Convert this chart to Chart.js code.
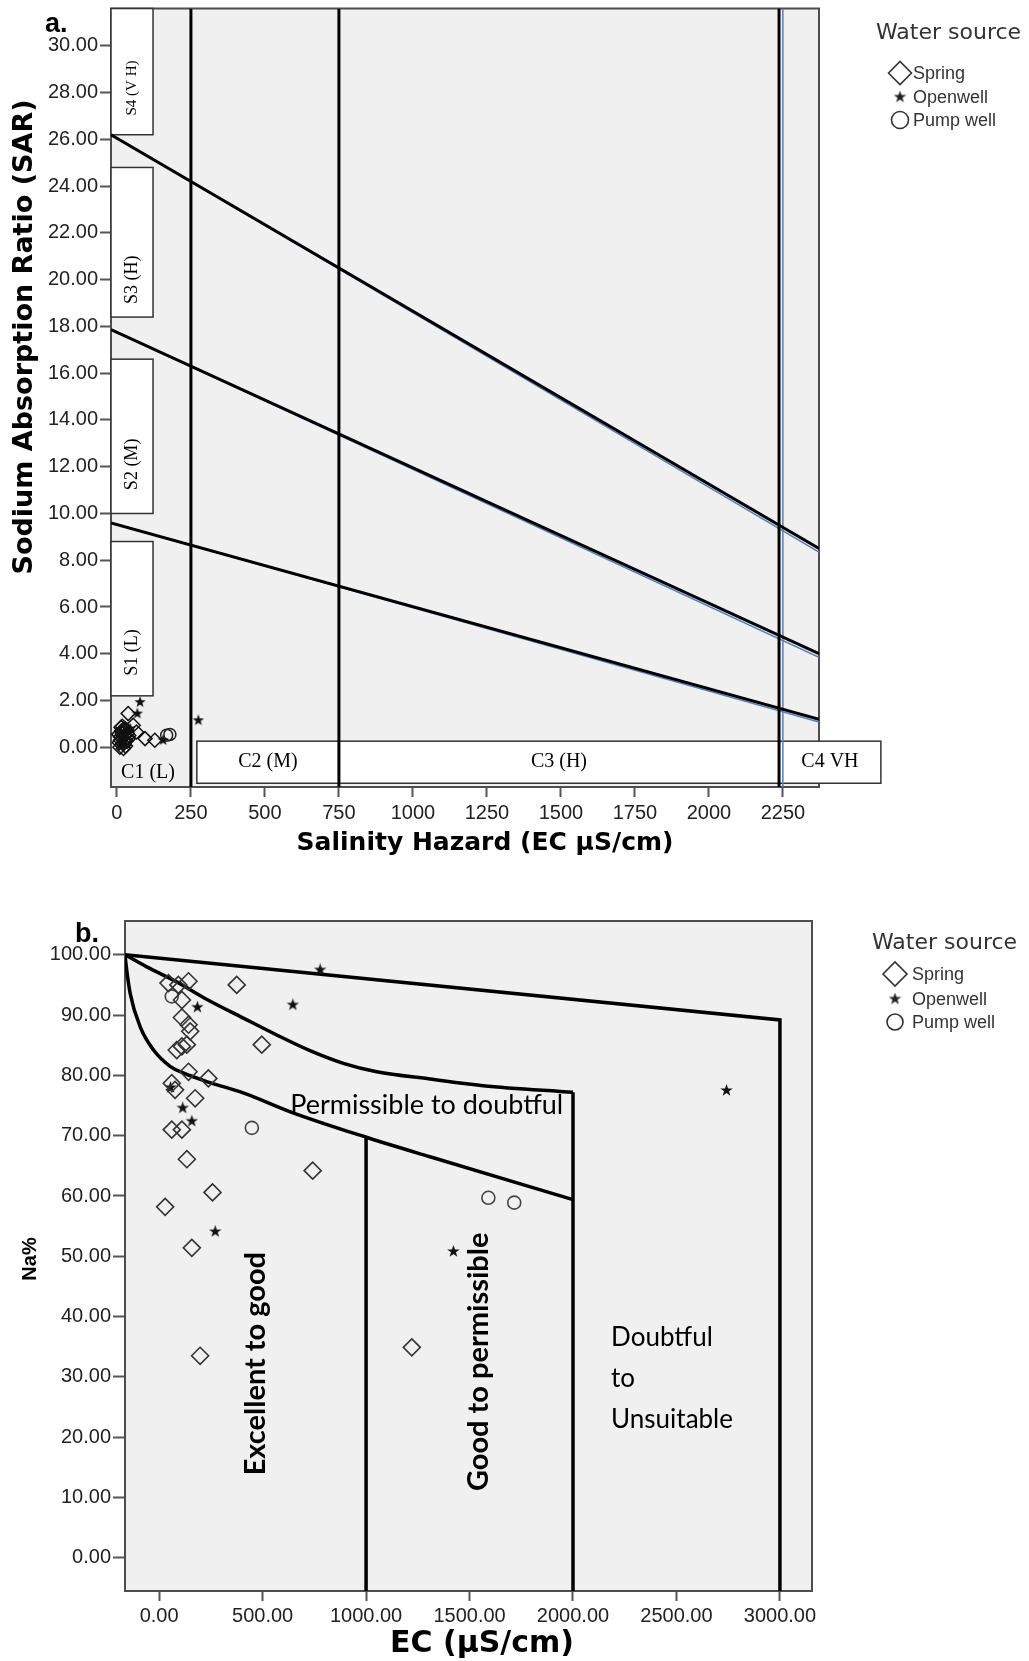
<!DOCTYPE html>
<html>
<head>
<meta charset="utf-8">
<title>SAR and Na% diagrams</title>
<script src="https://cdn.jsdelivr.net/npm/chart.js@4.4.1/dist/chart.umd.min.js"></script>
<style>
  body { margin: 0; background: #fff; }
  #wrap { position: relative; width: 1029px; height: 1661px; }
  canvas { position: absolute; left: 0; }
  #chartA { top: 0; }
  #chartB { top: 865px; }
</style>
</head>
<body>
<div id="wrap">
  <canvas id="chartA" width="1029" height="865"></canvas>
  <canvas id="chartB" width="1029" height="796"></canvas>
</div>
<script>
// ---------- panel a: USSL salinity / sodium diagram ----------
const sarTicks = [0, 2, 4, 6, 8, 10, 12, 14, 16, 18, 20, 22, 24, 26, 28, 30];
const ecTicksA = [0, 250, 500, 750, 1000, 1250, 1500, 1750, 2000, 2250];
const ecRangeA = [-20, 2372];
const sarRange = [-1.7, 31.6];

// samples [EC, SAR]
const springA = [
  [38, 1.44], [55, 0.94], [66, 0.65], [95, 0.37], [128, 0.30],
  [8, 0.2], [12, 0.45], [16, 0.7], [20, 0.15], [24, 0.5], [27, 0.8], [31, 0.3],
  [35, 0.6], [14, 0.85], [10, 0.0], [22, -0.05], [29, 0.05], [38, 0.35],
  [18, 0.9], [25, 0.25], [33, 0.75], [6, 0.55], [40, 0.5], [12, 0.3], [21, 0.65]
];
const openwellA = [[78, 1.93], [69, 1.44], [275, 1.15], [156, 0.30], [20, 0.4], [14, 0.2], [30, 0.6], [26, 0.1], [45, 0.8]];
const pumpwellA = [[168, 0.51], [179, 0.55], [15, 0.6], [28, 0.2]];

// class boundaries (drawn black, with the thin blue originals under them)
const sarLineS34 = [[-20, 26.2], [2372, 8.5]];
const sarLineS23 = [[-20, 17.86], [2372, 4.0]];
const sarLineS12 = [[-20, 9.6], [2372, 1.2]];
const sarLineS34Blue = [[-20, 26.2], [2372, 8.35]];
const sarLineS23Blue = [[-20, 17.86], [2372, 3.85]];
const sarLineS12Blue = [[-20, 9.6], [2372, 1.08]];
const ecLimitsA = [250, 750, 2237];
const ecLimitsABlue = [250, 750, 2250];

// zone boxes in data units
const sZones = [
  { label: 'S4 (V H)', x0: -20, x1: 122, y0: 26.2, y1: 31.6, ty: 28.2 },
  { label: 'S3 (H)', x0: -20, x1: 122, y0: 18.4, y1: 24.8, ty: 20.0 },
  { label: 'S2 (M)', x0: -20, x1: 122, y0: 10.0, y1: 16.6, ty: 12.1 },
  { label: 'S1 (L)', x0: -20, x1: 122, y0: 2.2, y1: 8.8, ty: 4.05 }
];
const cZones = [
  { label: 'C2 (M)', x0: 270, x1: 750, y0: -1.54, y1: 0.26 },
  { label: 'C3 (H)', x0: 750, x1: 2237, y0: -1.54, y1: 0.26 },
  { label: 'C4 VH', x0: 2237, x1: 2581, y0: -1.54, y1: 0.26 }
];
const c1Label = { label: 'C1 (L)', x: 105, y: -1.07 };

// ---------- panel b: Wilcox diagram ----------
const naTicks = [0, 10, 20, 30, 40, 50, 60, 70, 80, 90, 100];
const ecTicksB = [0, 500, 1000, 1500, 2000, 2500, 3000];
const ecRangeB = [-165, 3155];
const naRange = [-5.5, 105.6];

// samples [EC, Na%]
const springB = [
  [45, 95.3], [93, 95.0], [142, 95.6], [375, 95.0], [110, 92.5], [110, 89.6],
  [142, 88.4], [150, 87.3], [85, 84.2], [110, 84.8], [134, 85.1], [496, 85.1],
  [142, 80.6], [238, 79.5], [61, 78.7], [77, 77.6], [174, 76.2], [61, 71.0],
  [110, 71.0], [134, 66.1], [742, 64.2], [258, 60.6], [29, 58.2], [158, 51.4],
  [198, 33.5], [1221, 34.9]
];
const openwellB = [[778, 97.5], [646, 91.7], [185, 91.3], [55, 78.0], [114, 74.6], [158, 72.4], [2742, 77.5], [1422, 50.8], [271, 54.1]];
const pumpwellB = [[61, 93.1], [448, 71.3], [1591, 59.7], [1716, 58.9]];

const naLineTop = [[-165, 100], [3000, 89.2], [3000, -5.5]];
const naCurveMid = [[-165, 100], [-60, 98.0], [85, 95.5], [220, 92.8], [407, 89.5], [568, 86.7], [729, 84.1], [890, 82.0], [1052, 80.6], [1309, 79.4], [1565, 78.3], [2000, 77.2]];
const naCurveLow = [[-165, 100], [-159, 98.1], [-140, 93.6], [-92, 88.1], [-27, 84.2], [53, 81.5], [116, 80.4], [246, 78.8], [406, 77.1], [647, 73.8], [1005, 69.7], [1309, 66.5], [2000, 59.4]];
const naVert2000 = [[2000, 77.2], [2000, -5.5]];
const naVert1000 = [[1000, 69.7], [1000, -5.5]];

// ---------- helpers ----------
const xy = arr => arr.map(([x, y]) => ({ x, y }));
const fixedTicks = values => scale => { scale.ticks = values.map(v => ({ value: v })); };

function starImage(size, color) {
  const c = document.createElement('canvas');
  c.width = c.height = size;
  const g = c.getContext('2d');
  const r = size / 2, ri = r * 0.4;
  g.fillStyle = color;
  g.beginPath();
  for (let i = 0; i < 10; i++) {
    const a = -Math.PI / 2 + i * Math.PI / 5;
    const rr = i % 2 ? ri : r;
    g.lineTo(r + rr * Math.cos(a), r + rr * Math.sin(a));
  }
  g.closePath();
  g.fill();
  return c;
}

function lineSet(data, color, width, curve) {
  return {
    data: xy(data), showLine: true, borderColor: color, borderWidth: width,
    pointRadius: 0, fill: false, tension: 0,
    cubicInterpolationMode: curve ? 'monotone' : 'default'
  };
}

function drawSymbol(ctx, style, x, y, r) {
  if (style instanceof HTMLCanvasElement) {
    ctx.drawImage(style, x - style.width / 2, y - style.height / 2);
    return;
  }
  ctx.beginPath();
  if (style === 'rectRot') {
    ctx.moveTo(x - r, y); ctx.lineTo(x, y - r); ctx.lineTo(x + r, y); ctx.lineTo(x, y + r);
    ctx.closePath();
  } else {
    ctx.arc(x, y, r, 0, Math.PI * 2);
  }
  ctx.strokeStyle = '#333';
  ctx.lineWidth = 1.6;
  ctx.stroke();
}

function drawLegend(chart, cfg) {
  const ctx = chart.ctx;
  ctx.save();
  ctx.fillStyle = '#333';
  ctx.textAlign = 'left';
  ctx.textBaseline = 'middle';
  ctx.font = '22px "DejaVu Sans"';
  ctx.fillText('Water source', cfg.x, cfg.titleY);
  chart.data.datasets.filter(d => d.label).forEach((d, i) => {
    const y = cfg.rows[i];
    drawSymbol(ctx, d.legendStyle || d.pointStyle, cfg.symX, y, cfg.sizes[i]);
    ctx.fillStyle = '#333';
    ctx.font = '18px "Liberation Sans"';
    ctx.fillText(d.label, cfg.textX, y + 1);
  });
  ctx.restore();
}

function plotFrame(chart) {
  const { ctx, chartArea: a } = chart;
  ctx.save();
  ctx.strokeStyle = '#4d4d4d';
  ctx.lineWidth = 2;
  ctx.strokeRect(a.left, a.top, a.right - a.left, a.bottom - a.top);
  ctx.restore();
}

function plotBackground(chart) {
  const { ctx, chartArea: a } = chart;
  ctx.save();
  ctx.fillStyle = '#f0f0f0';
  ctx.fillRect(a.left, a.top, a.right - a.left, a.bottom - a.top);
  ctx.restore();
}

function rotatedText(ctx, text, x, y, font) {
  ctx.save();
  ctx.translate(x, y);
  ctx.rotate(-Math.PI / 2);
  ctx.font = font;
  ctx.textAlign = 'center';
  ctx.textBaseline = 'middle';
  ctx.fillText(text, 0, 0);
  ctx.restore();
}

function flatText(ctx, text, x, y, font) {
  ctx.save();
  ctx.font = font;
  ctx.textAlign = 'center';
  ctx.textBaseline = 'middle';
  ctx.fillText(text, x, y);
  ctx.restore();
}

// fixed axis box; label overhang must not push the plot area
function fixedSize(prop, size) {
  return s => {
    s[prop] = size;
    s.paddingTop = 0; s.paddingBottom = 0; s.paddingLeft = 0; s.paddingRight = 0;
  };
}

function axisOptions(o) {
  return {
    type: 'linear', min: o.range[0], max: o.range[1],
    afterBuildTicks: fixedTicks(o.ticks),
    afterFit: o.fit,
    grid: { drawOnChartArea: false, drawTicks: true, tickLength: o.tickLength, tickWidth: 2, tickColor: '#555' },
    border: { display: false },
    ticks: { color: '#222', font: o.tickFont, padding: o.pad, maxRotation: 0, autoSkip: false, callback: o.format },
    title: { display: false }
  };
}

// ---------- chart a ----------
const starA = starImage(12, '#111');
const starLegA = starImage(13, '#222');

const panelAPlugin = {
  id: 'panelA',
  beforeDraw: plotBackground,
  beforeDatasetsDraw(chart) {
    plotFrame(chart);
    const { ctx, scales: { x, y } } = chart;
    ctx.save();
    ctx.fillStyle = '#fff';
    ctx.strokeStyle = '#333';
    ctx.lineWidth = 1.5;
    [...sZones, ...cZones].forEach(z => {
      const px0 = x.getPixelForValue(z.x0), px1 = x.getPixelForValue(z.x1);
      const py0 = y.getPixelForValue(z.y1), py1 = y.getPixelForValue(z.y0);
      ctx.fillRect(px0, py0, px1 - px0, py1 - py0);
      ctx.strokeRect(px0, py0, px1 - px0, py1 - py0);
    });
    ctx.fillStyle = '#000';
    sZones.forEach((z, i) => {
      rotatedText(ctx, z.label, x.getPixelForValue((z.x0 + z.x1) / 2), y.getPixelForValue(z.ty),
        (i === 0 ? 15 : 18) + 'px "Liberation Serif"');
    });
    ctx.font = '20px "Liberation Serif"';
    ctx.textAlign = 'center';
    ctx.textBaseline = 'middle';
    cZones.forEach(z => {
      ctx.fillText(z.label, x.getPixelForValue((z.x0 + z.x1) / 2), y.getPixelForValue((z.y0 + z.y1) / 2));
    });
    ctx.fillText(c1Label.label, x.getPixelForValue(c1Label.x), y.getPixelForValue(c1Label.y));
    ctx.restore();
  },
  afterDraw(chart) {
    const ctx = chart.ctx;
    ctx.save();
    ctx.fillStyle = '#000';
    ctx.font = 'bold 27px "Liberation Sans"';
    ctx.textBaseline = 'alphabetic';
    ctx.fillText('a.', 45, 32);
    rotatedText(ctx, 'Sodium Absorption Ratio (SAR)', 25, 337, 'bold 27px "DejaVu Sans"');
    flatText(ctx, 'Salinity Hazard (EC µS/cm)', 485, 843, 'bold 25px "DejaVu Sans"');
    ctx.restore();
    drawLegend(chart, { x: 876, titleY: 33, symX: 900, textX: 913, rows: [73, 97, 120], sizes: [11.5, 0, 8.5] });
  }
};

const vertA = ecLimitsA.map(v => lineSet([[v, sarRange[0]], [v, sarRange[1]]], '#000', 3));
const vertABlue = ecLimitsABlue.map(v => lineSet([[v, sarRange[0]], [v, sarRange[1]]], '#4f81bd', 1.5));

new Chart(document.getElementById('chartA'), {
  type: 'scatter',
  data: {
    datasets: [
      { label: 'Spring', data: xy(springA), pointStyle: 'rectRot', pointRadius: 7, borderColor: '#111', borderWidth: 1.5, backgroundColor: 'rgba(0,0,0,0)' },
      { label: 'Openwell', data: xy(openwellA), pointStyle: starA, legendStyle: starLegA, pointRadius: 6 },
      { label: 'Pump well', data: xy(pumpwellA), pointStyle: 'circle', pointRadius: 6, borderColor: '#222', borderWidth: 1.5, backgroundColor: 'rgba(0,0,0,0)' },
      lineSet(sarLineS34, '#000', 3),
      lineSet(sarLineS23, '#000', 3),
      lineSet(sarLineS12, '#000', 3),
      ...vertA,
      lineSet(sarLineS34Blue, '#4f81bd', 1.5),
      lineSet(sarLineS23Blue, '#4f81bd', 1.5),
      lineSet(sarLineS12Blue, '#4f81bd', 1.5),
      ...vertABlue
    ]
  },
  options: {
    responsive: false,
    animation: false,
    devicePixelRatio: 1,
    layout: { padding: { left: 0, right: 210, top: 6, bottom: 0 } },
    plugins: { legend: { display: false }, tooltip: { enabled: false } },
    scales: {
      x: axisOptions({
        range: ecRangeA, ticks: ecTicksA, fit: fixedSize('height', 78), tickLength: 10, pad: 4,
        tickFont: { family: 'Liberation Sans', size: 20 }, format: v => String(v)
      }),
      y: axisOptions({
        range: sarRange, ticks: sarTicks, fit: fixedSize('width', 111), tickLength: 11, pad: 2,
        tickFont: { family: 'Liberation Sans', size: 20 }, format: v => v.toFixed(2)
      })
    }
  },
  plugins: [panelAPlugin]
});

// ---------- chart b ----------
const starB = starImage(13, '#111');
const starLegB = starImage(13, '#222');

const panelBPlugin = {
  id: 'panelB',
  beforeDraw: plotBackground,
  beforeDatasetsDraw: plotFrame,
  afterDatasetsDraw(chart) {
    const { ctx, scales: { x, y } } = chart;
    ctx.save();
    ctx.fillStyle = '#000';
    ctx.textBaseline = 'middle';
    ctx.textAlign = 'left';
    ctx.font = '27px Lato';
    ctx.fillText('Permissible to doubtful', x.getPixelForValue(633), y.getPixelForValue(75.0));
    ctx.font = '26px Lato';
    ctx.fillText('Doubtful', x.getPixelForValue(2184), y.getPixelForValue(36.6));
    ctx.fillText('to', x.getPixelForValue(2184), y.getPixelForValue(29.7));
    ctx.fillText('Unsuitable', x.getPixelForValue(2184), y.getPixelForValue(23.0));
    rotatedText(ctx, 'Excellent to good', x.getPixelForValue(464), y.getPixelForValue(32.2), 'bold 29px Lato');
    rotatedText(ctx, 'Good to permissible', x.getPixelForValue(1546), y.getPixelForValue(32.5), 'bold 29px Lato');
    ctx.restore();
  },
  afterDraw(chart) {
    const ctx = chart.ctx;
    ctx.save();
    ctx.fillStyle = '#000';
    ctx.font = 'bold 27px "Liberation Sans"';
    ctx.fillText('b.', 75, 77);
    rotatedText(ctx, 'Na%', 30, 394, 'bold 20px "Liberation Sans"');
    flatText(ctx, 'EC (µS/cm)', 482, 779, 'bold 30px "DejaVu Sans"');
    ctx.restore();
    drawLegend(chart, { x: 872, titleY: 78, symX: 895, textX: 912, rows: [109, 134, 157], sizes: [12, 0, 8] });
  }
};

new Chart(document.getElementById('chartB'), {
  type: 'scatter',
  data: {
    datasets: [
      { label: 'Spring', data: xy(springB), pointStyle: 'rectRot', pointRadius: 8.5, borderColor: '#333', borderWidth: 1.6, backgroundColor: 'rgba(0,0,0,0)' },
      { label: 'Openwell', data: xy(openwellB), pointStyle: starB, legendStyle: starLegB, pointRadius: 6 },
      { label: 'Pump well', data: xy(pumpwellB), pointStyle: 'circle', pointRadius: 6.5, borderColor: '#444', borderWidth: 1.6, backgroundColor: 'rgba(0,0,0,0)' },
      lineSet(naLineTop, '#000', 3.5),
      lineSet(naCurveMid, '#000', 3.5, true),
      lineSet(naCurveLow, '#000', 3.5, true),
      lineSet(naVert2000, '#000', 3.5),
      lineSet(naVert1000, '#000', 3.5)
    ]
  },
  options: {
    responsive: false,
    animation: false,
    devicePixelRatio: 1,
    layout: { padding: { left: 0, right: 217, top: 56, bottom: 0 } },
    plugins: { legend: { display: false }, tooltip: { enabled: false } },
    scales: {
      x: axisOptions({
        range: ecRangeB, ticks: ecTicksB, fit: fixedSize('height', 70), tickLength: 10, pad: 3,
        tickFont: { family: 'Liberation Sans', size: 20 }, format: v => v.toFixed(2)
      }),
      y: axisOptions({
        range: naRange, ticks: naTicks, fit: fixedSize('width', 125), tickLength: 12, pad: 2,
        tickFont: { family: 'Liberation Sans', size: 20 }, format: v => v.toFixed(2)
      })
    }
  },
  plugins: [panelBPlugin]
});
</script>
</body>
</html>
